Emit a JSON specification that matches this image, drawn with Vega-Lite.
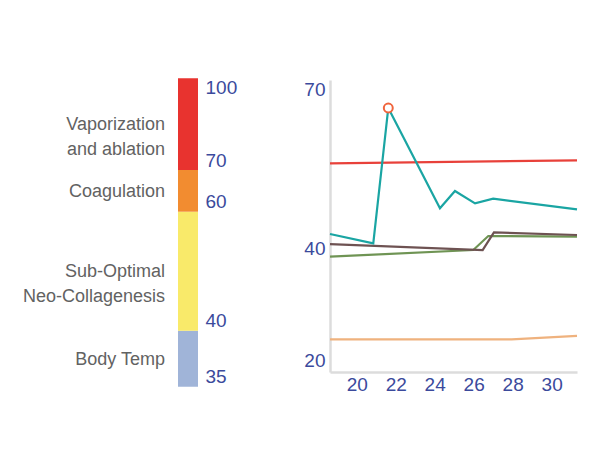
{
  "$schema": "https://vega.github.io/schema/vega-lite/v6.json",
  "width": 600,
  "height": 470,
  "autosize": {"type": "none"},
  "padding": 0,
  "background": "white",
  "config": {"view": {"stroke": null}, "font": "Liberation Sans"},
  "datasets": {
    "zones": [
      {"zone": "Body Temp", "label": "Body Temp", "lo": 35, "hi": 40, "bar": "t"},
      {"zone": "Sub-Optimal", "label": "Sub-Optimal\nNeo-Collagenesis", "lo": 40, "hi": 60, "bar": "t"},
      {"zone": "Coagulation", "label": "Coagulation", "lo": 60, "hi": 70, "bar": "t"},
      {"zone": "Vaporization", "label": "Vaporization\nand ablation", "lo": 70, "hi": 100, "bar": "t"}
    ],
    "temps": [
      {"series": "orange", "day": 18.63, "temp": 23.7},
      {"series": "orange", "day": 27.95, "temp": 23.7},
      {"series": "orange", "day": 31.3, "temp": 24.3},
      {"series": "green", "day": 18.63, "temp": 38.45},
      {"series": "green", "day": 25.98, "temp": 39.64},
      {"series": "green", "day": 26.75, "temp": 42.14},
      {"series": "green", "day": 31.3, "temp": 42.02},
      {"series": "brown", "day": 18.63, "temp": 40.71},
      {"series": "brown", "day": 26.46, "temp": 39.64},
      {"series": "brown", "day": 27.04, "temp": 42.8},
      {"series": "brown", "day": 31.3, "temp": 42.32},
      {"series": "red", "day": 18.63, "temp": 55.13},
      {"series": "red", "day": 31.3, "temp": 55.66},
      {"series": "teal", "day": 18.63, "temp": 42.5},
      {"series": "teal", "day": 20.85, "temp": 40.84},
      {"series": "teal", "day": 21.62, "temp": 65.0},
      {"series": "teal", "day": 24.27, "temp": 47.09},
      {"series": "teal", "day": 25.04, "temp": 50.18},
      {"series": "teal", "day": 26.07, "temp": 47.98},
      {"series": "teal", "day": 27.0, "temp": 48.8},
      {"series": "teal", "day": 31.3, "temp": 46.9}
    ],
    "grid": [{"temp": 30}, {"temp": 50}, {"temp": 60}],
    "peak": [{"day": 21.62, "temp": 65.0}]
  },
  "layer": [
    {
      "data": {"name": "zones"},
      "layer": [
        {
          "mark": {"type": "rect"},
          "encoding": {
            "x": {"field": "bar", "type": "nominal", "scale": {"type": "band", "range": [178, 198], "paddingInner": 0, "paddingOuter": 0}, "axis": null},
            "y": {
              "field": "lo", "type": "quantitative",
              "scale": {"domain": [35, 40, 60, 70, 100], "range": [386.7, 330.7, 211.7, 170, 78.3], "nice": false, "zero": false},
              "axis": {
                "orient": "right", "offset": -402, "values": [35, 40, 60, 70, 100], "title": null,
                "domain": false, "ticks": false, "grid": false, "labelPadding": 7,
                "labelFontSize": 19, "labelColor": "#3b4a9c", "labelAlign": "left",
                "labelBaseline": {"condition": {"test": "datum.value == 100", "value": "top"}, "value": "bottom"}
              }
            },
            "y2": {"field": "hi"},
            "color": {
              "field": "zone", "type": "nominal", "legend": null,
              "scale": {"domain": ["Body Temp", "Sub-Optimal", "Coagulation", "Vaporization"], "range": ["#a0b4d8", "#f9ea6a", "#f28c30", "#e8332f"]}
            }
          }
        },
        {
          "transform": [{"calculate": "(datum.lo + datum.hi) / 2", "as": "mid"}],
          "mark": {"type": "text", "align": "right", "baseline": "middle", "dx": -13, "dy": 1, "lineBreak": "\n", "lineHeight": 25, "fontSize": 18, "color": "#626262"},
          "encoding": {
            "x": {"field": "bar", "type": "nominal", "bandPosition": 0},
            "y": {"field": "mid", "type": "quantitative"},
            "text": {"field": "label"}
          }
        }
      ]
    },
    {
      "encoding": {
        "x": {
          "field": "day", "type": "quantitative",
          "scale": {"domain": [18.63, 31.3], "range": [330, 577], "nice": false, "zero": false},
          "axis": {
            "orient": "bottom", "offset": -98, "values": [20, 22, 24, 26, 28, 30], "title": null,
            "ticks": false, "grid": false, "domainColor": "#dcdcdc", "domainWidth": 2.5,
            "labelPadding": 3, "labelFontSize": 19, "labelColor": "#3b4a9c"
          }
        },
        "y": {
          "field": "temp", "type": "quantitative",
          "scale": {"domain": [17.86, 70], "range": [372, 80], "nice": false, "zero": false},
          "axis": {
            "orient": "left", "offset": -330, "values": [20, 40, 70], "title": null,
            "ticks": false, "grid": false, "domainColor": "#dcdcdc", "domainWidth": 2.5,
            "labelPadding": 5, "labelFontSize": 19, "labelColor": "#3b4a9c", "labelFlush": true
          }
        }
      },
      "layer": [
        {
          "data": {"name": "grid"},
          "mark": {"type": "rule", "color": "#e8e8e8", "strokeWidth": 1.5},
          "encoding": {"x": {"datum": 18.63}, "x2": {"datum": 31.3}}
        },
        {
          "data": {"name": "temps"},
          "mark": {"type": "line", "strokeWidth": 2.2},
          "encoding": {
            "color": {
              "field": "series", "type": "nominal", "legend": null,
              "scale": {"domain": ["orange", "green", "brown", "red", "teal"], "range": ["#efb27e", "#6f9454", "#6e5252", "#e8413a", "#1aa5a3"]}
            }
          }
        },
        {
          "data": {"name": "peak"},
          "mark": {"type": "point", "shape": "circle", "size": 80, "filled": false, "fill": "white", "fillOpacity": 1, "stroke": "#f0643c", "strokeWidth": 2, "opacity": 1}
        }
      ]
    }
  ],
  "resolve": {"scale": {"x": "independent", "y": "independent", "color": "independent"}, "axis": {"x": "independent", "y": "independent"}}
}
